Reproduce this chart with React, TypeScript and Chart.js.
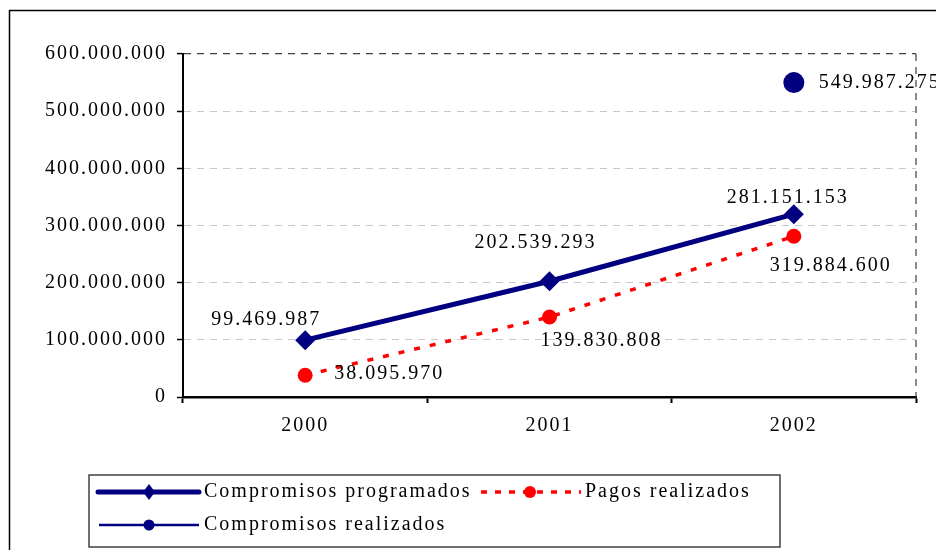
import { useEffect, useRef } from 'react';
import { Chart, registerables } from 'chart.js';

Chart.register(...registerables);

const years = ['2000', '2001', '2002'];
const compromisosProgramados = [99469987, 202539293, 319884600];
const pagosRealizados = [38095970, 139830808, 281151153];
const compromisosRealizados = [null, null, 549987275];

const programadosLabels = ['99.469.987', '202.539.293', '281.151.153'];
const pagosLabels = ['38.095.970', '139.830.808', '319.884.600'];
const realizadosLabels = ['', '', '549.987.275'];

const yMin = 0;
const yMax = 600000000;
const yStep = 100000000;

// label placement offsets (px) relative to each point
const programadosOffsets = [[-39, -20], [-14, -38], [-6, -16]];
const pagosOffsets = [[84, -1], [52, 24], [37, 29]];
const realizadosOffsets = [[25, 0], [25, 0], [25, 0]];

const NAVY = '#000080';
const RED = '#ff0000';
const FONT_FAMILY = '"Liberation Serif", "Times New Roman", serif';
const FONT = `20px ${FONT_FAMILY}`;
const SPACING = '2px';

const fmt = (v: number) => String(Math.round(v)).replace(/\B(?=(\d{3})+(?!\d))/g, '.');

const spacingPlugin = {
  id: 'spacing',
  beforeUpdate(chart: any) { chart.ctx.letterSpacing = SPACING; },
  beforeLayout(chart: any) { chart.ctx.letterSpacing = SPACING; },
  beforeDraw(chart: any) { chart.ctx.letterSpacing = SPACING; },
};

const decorPlugin = {
  id: 'decor',
  beforeDatasetsDraw(chart: any) {
    const { ctx, chartArea } = chart;
    ctx.save();
    ctx.strokeStyle = '#404040';
    ctx.lineWidth = 1.2;
    ctx.setLineDash([7, 6]);
    ctx.beginPath();
    ctx.moveTo(chartArea.right, chartArea.top);
    ctx.lineTo(chartArea.right, chartArea.bottom);
    ctx.stroke();
    ctx.restore();
  },
  afterDatasetsDraw(chart: any) {
    const { ctx } = chart;
    ctx.save();
    ctx.letterSpacing = SPACING;
    ctx.font = FONT;
    ctx.fillStyle = '#000';
    ctx.textBaseline = 'middle';
    const groups: [number, string[], number[][], CanvasTextAlign][] = [
      [0, programadosLabels, programadosOffsets, 'center'],
      [1, pagosLabels, pagosOffsets, 'center'],
      [2, realizadosLabels, realizadosOffsets, 'left'],
    ];
    for (const [di, labels, offs, align] of groups) {
      const meta = chart.getDatasetMeta(di);
      meta.data.forEach((pt: any, i: number) => {
        if (!labels[i] || pt.skip) return;
        ctx.textAlign = align;
        ctx.fillText(labels[i], pt.x + offs[i][0], pt.y + offs[i][1]);
      });
    }
    ctx.restore();
  },
  afterDraw(chart: any) {
    const { ctx } = chart;
    const ds = chart.data.datasets;
    ctx.save();
    // outer frame
    ctx.strokeStyle = '#000';
    ctx.lineWidth = 1.5;
    ctx.strokeRect(9.5, 10.5, 1000, 1000);

    // legend box
    ctx.strokeStyle = '#404040';
    ctx.lineWidth = 1.5;
    ctx.strokeRect(89, 475, 691, 72);

    const r1 = 492;
    const r2 = 525;
    // row 1, programados
    ctx.strokeStyle = NAVY;
    ctx.lineWidth = 5;
    ctx.lineCap = 'round';
    ctx.beginPath();
    ctx.moveTo(98, r1);
    ctx.lineTo(199, r1);
    ctx.stroke();
    ctx.fillStyle = NAVY;
    ctx.beginPath();
    ctx.moveTo(149, r1 - 8);
    ctx.lineTo(155, r1);
    ctx.lineTo(149, r1 + 8);
    ctx.lineTo(143, r1);
    ctx.closePath();
    ctx.fill();

    // row 1, pagos
    ctx.strokeStyle = RED;
    ctx.lineWidth = 3.5;
    ctx.lineCap = 'butt';
    ctx.setLineDash([6, 8]);
    ctx.beginPath();
    ctx.moveTo(481, r1);
    ctx.lineTo(581, r1);
    ctx.stroke();
    ctx.setLineDash([]);
    ctx.fillStyle = RED;
    ctx.beginPath();
    ctx.arc(530, r1, 6, 0, Math.PI * 2);
    ctx.fill();

    // row 2, realizados
    ctx.strokeStyle = NAVY;
    ctx.lineWidth = 2.5;
    ctx.beginPath();
    ctx.moveTo(99, r2);
    ctx.lineTo(199, r2);
    ctx.stroke();
    ctx.fillStyle = NAVY;
    ctx.beginPath();
    ctx.arc(149, r2, 5.5, 0, Math.PI * 2);
    ctx.fill();

    ctx.letterSpacing = SPACING;
    ctx.font = FONT;
    ctx.fillStyle = '#000';
    ctx.textAlign = 'left';
    ctx.textBaseline = 'middle';
    ctx.fillText(ds[0].label, 204, r1);
    ctx.fillText(ds[1].label, 585, r1);
    ctx.fillText(ds[2].label, 204, r2);
    ctx.restore();
  },
};

export default function App() {
  const canvasRef = useRef<HTMLCanvasElement | null>(null);

  useEffect(() => {
    const canvas = canvasRef.current;
    if (!canvas) return;
    const chart = new Chart(canvas, {
      type: 'line',
      data: {
        labels: years,
        datasets: [
          {
            label: 'Compromisos programados',
            data: compromisosProgramados,
            borderColor: NAVY,
            backgroundColor: NAVY,
            borderWidth: 5,
            pointStyle: 'rectRot',
            pointRadius: 10,
            pointBorderWidth: 0,
            tension: 0,
          },
          {
            label: 'Pagos realizados',
            data: pagosRealizados,
            borderColor: RED,
            backgroundColor: RED,
            borderWidth: 3.5,
            borderDash: [6, 10],
            pointStyle: 'circle',
            pointRadius: 7.5,
            pointBorderWidth: 0,
            tension: 0,
          },
          {
            label: 'Compromisos realizados',
            data: compromisosRealizados,
            borderColor: NAVY,
            backgroundColor: NAVY,
            borderWidth: 2.5,
            pointStyle: 'circle',
            pointRadius: 10.5,
            pointBorderWidth: 0,
            showLine: false,
          },
        ],
      },
      options: {
        animation: false,
        responsive: false,
        layout: { padding: { top: 54, right: 20, left: 0, bottom: 0 } },
        plugins: {
          legend: { display: false },
          tooltip: { enabled: false },
        },
        scales: {
          x: {
            type: 'category',
            offset: true,
            afterFit: (s: any) => { s.height = 153; },
            grid: {
              offset: true,
              drawOnChartArea: false,
              drawTicks: true,
              tickLength: 6,
              tickColor: '#000',
              tickWidth: 2,
            },
            border: { display: true, color: '#000', width: 2.5 },
            ticks: {
              color: '#000',
              font: { family: FONT_FAMILY, size: 20 },
              padding: 11,
              maxRotation: 0,
            },
          },
          y: {
            min: yMin,
            max: yMax,
            afterFit: (s: any) => { s.width = 183; },
            grid: {
              color: (c: any) => (c.tick && c.tick.value === yMax ? '#404040' : '#c8c8c8'),
              lineWidth: (c: any) => (c.tick && c.tick.value === yMax ? 1.2 : 1),
              tickLength: 6,
              tickColor: '#000',
              tickWidth: 1.5,
              tickBorderDash: [],
            },
            border: { display: true, color: '#000', width: 2, dash: [7, 6] },
            ticks: {
              stepSize: yStep,
              color: '#000',
              font: { family: FONT_FAMILY, size: 20 },
              padding: 10,
              callback: (v: any) => fmt(Number(v)),
            },
          },
        },
      },
      plugins: [spacingPlugin, decorPlugin],
    });
    return () => chart.destroy();
  }, []);

  return (
    <div style={{ position: 'absolute', left: 0, top: 0, width: 936, height: 550, background: '#fff' }}>
      <canvas ref={canvasRef} width={936} height={550} style={{ display: 'block' }} />
    </div>
  );
}
